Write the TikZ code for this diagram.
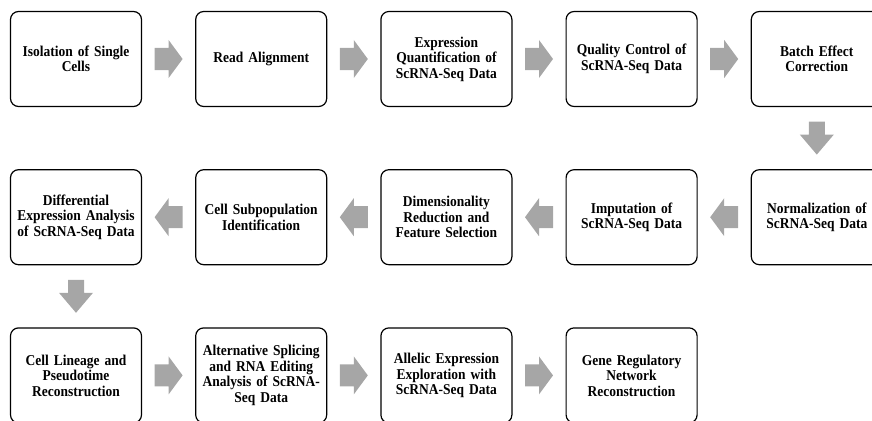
\documentclass[tikz,border=0pt]{standalone}
\usepackage{fontspec}
\setmainfont[FakeStretch=0.9]{Liberation Serif}
\usepackage{xcolor}
\usetikzlibrary{positioning,calc}

\definecolor{arrowgray}{RGB}{166,166,166}

\tikzset{
  stage/.style={draw, line width=1.2pt, rounded corners=8pt,
    minimum width=131pt, minimum height=95pt, text width=124pt,
    align=center, font=\fontsize{15}{15.5}\selectfont\bfseries}
}

% #1 centre, #2 rotation, #3 shaft half width, #4 head half width,
% #5 total length, #6 head length
\newcommand{\flowarrow}[6]{%
  \fill[arrowgray, shift={(#1)}, rotate=#2]
    ({-#5/2},-#3) -- ({#5/2-#6},-#3) -- ({#5/2-#6},-#4) -- ({#5/2},0)
    -- ({#5/2-#6},#4) -- ({#5/2-#6},#3) -- ({-#5/2},#3) -- cycle;}

\begin{document}
\begin{tikzpicture}[x=1pt,y=1pt]

\useasboundingbox (0,0) rectangle (872,-420);

% first row
\node[stage] (b1) at (76,-59) {Isolation of Single\\Cells};
\node[stage, right=53pt of b1] (b2) {Read Alignment};
\node[stage, right=53pt of b2] (b3) {Expression\\Quantification of\\ScRNA-Seq Data};
\node[stage, right=53pt of b3] (b4) {Quality Control of\\ScRNA-Seq Data};
\node[stage, right=53pt of b4] (b5) {Batch Effect\\Correction};

% second row
\node[stage, below=62pt of b5] (b6) {Normalization of\\ScRNA-Seq Data};
\node[stage, left=53pt of b6] (b7) {Imputation of\\ScRNA-Seq Data};
\node[stage, left=53pt of b7] (b8) {Dimensionality\\Reduction and\\Feature Selection};
\node[stage, left=53pt of b8] (b9) {Cell Subpopulation\\Identification};
\node[stage, left=53pt of b9] (b10) {Differential\\Expression Analysis\\of ScRNA-Seq Data};

% third row
\node[stage, below=62pt of b10] (b11) {Cell Lineage and\\Pseudotime\\Reconstruction};
\node[stage, right=53pt of b11] (b12) {Alternative Splicing\\and RNA Editing\\Analysis of ScRNA-\\Seq Data};
\node[stage, right=53pt of b12] (b13) {Allelic Expression\\Exploration with\\ScRNA-Seq Data};
\node[stage, right=53pt of b13] (b14) {Gene Regulatory\\Network\\Reconstruction};

\foreach \i/\j in {1/2,2/3,3/4,4/5,11/12,12/13,13/14}{
	\coordinate (m\i) at ($(b\i.east)!0.5!(b\j.west)$);
	\flowarrow{m\i}{0}{11}{19}{28}{14}
}

\foreach \i/\j in {6/7,7/8,8/9,9/10}{
	\coordinate (m\i) at ($(b\i.west)!0.5!(b\j.east)$);
	\flowarrow{m\i}{180}{11}{19}{28}{14}
}

\foreach \i/\j in {5/6,10/11}{
	\coordinate (m\i) at ($(b\i.south)!0.5!(b\j.north)$);
	\flowarrow{m\i}{-90}{8}{17}{33}{20}
}

\end{tikzpicture}
\end{document}
